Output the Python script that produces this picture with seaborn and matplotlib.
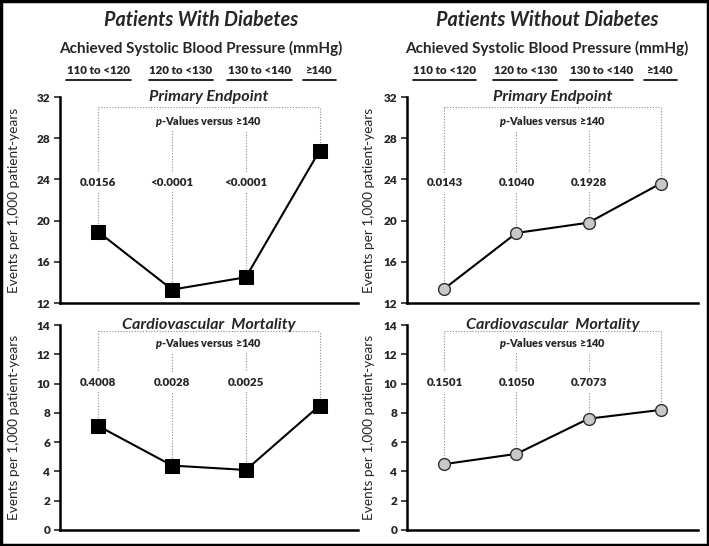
import matplotlib
matplotlib.use("Agg")
import matplotlib.pyplot as plt
import matplotlib.transforms as mtransforms
from matplotlib.patches import Rectangle
import pandas as pd
import seaborn as sns

CATEGORIES = ["110 to <120", "120 to <130", "130 to <140", "≥140"]
DIAB_PRIMARY = [18.9, 13.3, 14.5, 26.8]
DIAB_CV = [7.1, 4.4, 4.1, 8.5]
NODIAB_PRIMARY = [13.4, 18.8, 19.8, 23.6]
NODIAB_CV = [4.5, 5.2, 7.6, 8.2]
DIAB_PRIMARY_P = ["0.0156", "<0.0001", "<0.0001"]
DIAB_CV_P = ["0.4008", "0.0028", "0.0025"]
NODIAB_PRIMARY_P = ["0.0143", "0.1040", "0.1928"]
NODIAB_CV_P = ["0.1501", "0.1050", "0.7073"]
PRIMARY_TICKS = [12, 16, 20, 24, 28, 32]
CV_TICKS = [0, 2, 4, 6, 8, 10, 12, 14]

FONT = ["Lato", "DejaVu Sans"]
YLABEL = "Events per 1,000 patient-years"
HEAVY = "heavy"

sns.set_theme(style="white")
plt.rcParams["font.family"] = FONT
plt.rcParams["mathtext.fontset"] = "custom"
plt.rcParams["mathtext.it"] = "Lato:italic:heavy"
plt.rcParams["mathtext.rm"] = "Lato:heavy"

SQUARE = dict(marker="s", markersize=9.5, markerfacecolor="black", markeredgecolor="black")
SPHERE = dict(marker="o", markersize=8.5, markerfacecolor="#c8c8c8", markeredgecolor="#303030",
              markeredgewidth=1.0)


def draw_panel(ax, values, pvals, ticks, title, style, guide, ylabel_x, header=False):
    x = list(range(len(CATEGORIES)))
    df = pd.DataFrame({"x": x, "y": values})
    sns.lineplot(data=df, x="x", y="y", ax=ax, color="black", linewidth=1.5, **style,
                 zorder=5)

    # dotted guide box
    gray = "#8a8a8a"
    ax.plot([x[0], x[-1]], [guide["top"], guide["top"]], ls=(0, (1, 1.5)), lw=0.8, color=gray)
    for i, v in enumerate(values):
        top = guide["top"] if i in (0, len(values) - 1) else guide["label"]
        ax.plot([x[i], x[i]], [v, top], ls=(0, (1, 1.5)), lw=0.8, color=gray, zorder=1)
    ax.text((x[0] + x[-1]) / 2, guide["label"], "$p$-Values versus ≥140", ha="center",
            va="bottom", fontsize=7.8, fontweight=HEAVY,
            bbox=dict(facecolor="white", edgecolor="none", pad=1.5), zorder=3)
    for i, p in enumerate(pvals):
        ax.text(x[i], guide["pval"], p, ha="center", va="center", fontsize=8.3,
                fontweight=HEAVY, bbox=dict(facecolor="white", edgecolor="none", pad=3),
                zorder=3)

    ax.set_ylim(ticks[0], ticks[-1])
    ax.set_yticks(ticks)
    ax.set_xlim(-0.52, 3.52)
    ax.set_xticks([])
    ax.set_xlabel("")
    ax.set_ylabel(YLABEL, fontsize=9.8)
    ax.yaxis.set_label_coords(ylabel_x, 0.5)
    for lab in ax.get_yticklabels():
        lab.set_fontweight(HEAVY)
        lab.set_fontsize(8.5)
    ax.tick_params(axis="y", direction="out", length=4, width=1.2, left=True, pad=3)
    sns.despine(ax=ax)
    for side in ("left", "bottom"):
        ax.spines[side].set_linewidth(1.8)
        ax.spines[side].set_color("black")
    ax.text(0.5, 1.0, title, transform=ax.transAxes, ha="center", va="center",
            fontsize=11.6, fontweight="bold", fontstyle="italic")

    if header:
        trans = mtransforms.blended_transform_factory(ax.transData, ax.transAxes)
        centers = [0.0, 1.12, 2.18, 3.0]
        widths = [0.88, 0.88, 0.88, 0.45]
        for c, w, lab in zip(centers, widths, CATEGORIES):
            ax.text(c, 1.131, lab, transform=trans, ha="center", va="center",
                    fontsize=8.3, fontweight=HEAVY)
            ax.plot([c - w / 2, c + w / 2], [1.083, 1.083], transform=trans,
                    color="black", lw=1.2, clip_on=False)


fig = plt.figure(figsize=(7.09, 5.46), dpi=100)
W, H = 709, 546
top_b, top_t = 1 - 303 / H, 1 - 97 / H
bot_b, bot_t = 1 - 530 / H, 1 - 325 / H
left_l, left_r = 60 / W, 358 / W
right_l, right_r = 407 / W, 698 / W

ax_tl = fig.add_axes([left_l, top_b, left_r - left_l, top_t - top_b])
ax_bl = fig.add_axes([left_l, bot_b, left_r - left_l, bot_t - bot_b])
ax_tr = fig.add_axes([right_l, top_b, right_r - right_l, top_t - top_b])
ax_br = fig.add_axes([right_l, bot_b, right_r - right_l, bot_t - bot_b])

g_primary = dict(top=31.0, label=28.9, pval=23.7)
g_cv = dict(top=13.6, label=12.25, pval=10.1)

draw_panel(ax_tl, DIAB_PRIMARY, DIAB_PRIMARY_P, PRIMARY_TICKS, "Primary Endpoint",
           SQUARE, g_primary, -0.135, header=True)
draw_panel(ax_bl, DIAB_CV, DIAB_CV_P, CV_TICKS, "Cardiovascular  Mortality",
           SQUARE, g_cv, -0.135)
draw_panel(ax_tr, NODIAB_PRIMARY, NODIAB_PRIMARY_P, PRIMARY_TICKS, "Primary Endpoint",
           SPHERE, g_primary, -0.11, header=True)
draw_panel(ax_br, NODIAB_CV, NODIAB_CV_P, CV_TICKS, "Cardiovascular  Mortality",
           SPHERE, g_cv, -0.11)

for cx, title in [(201 / W, "Patients With Diabetes"), (547 / W, "Patients Without Diabetes")]:
    fig.text(cx, 1 - 20 / H, title, ha="center", va="center", fontsize=14.2,
             fontweight="bold", fontstyle="italic")
    fig.text(cx, 1 - 48 / H, "Achieved Systolic Blood Pressure (mmHg)", ha="center",
             va="center", fontsize=11, fontweight="bold")

fig.add_artist(Rectangle((0.0015, 0.002), 0.997, 0.996, transform=fig.transFigure,
                         fill=False, edgecolor="black", linewidth=2.5))

fig.savefig("out.png", dpi=100)
